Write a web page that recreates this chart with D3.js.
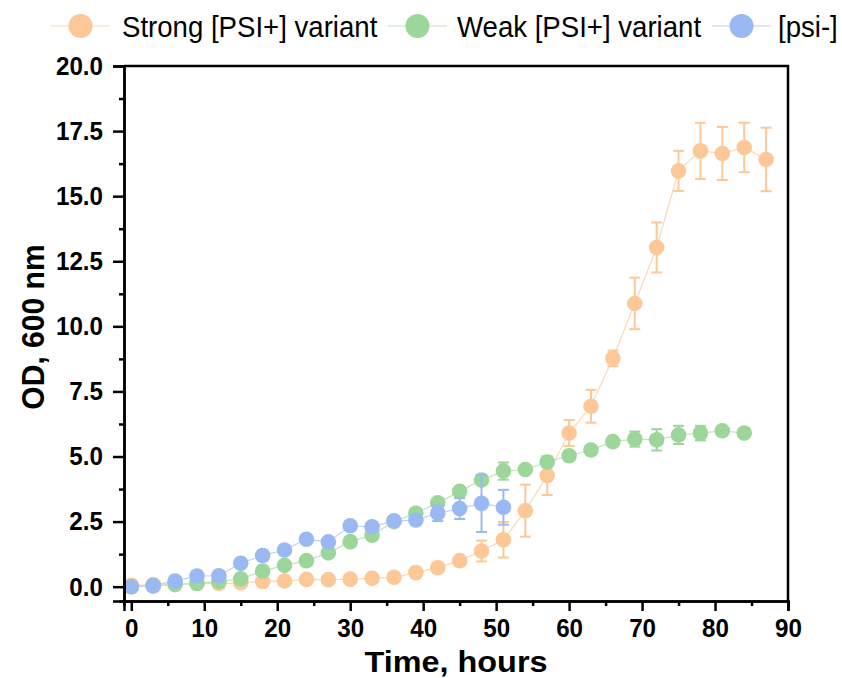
<!DOCTYPE html>
<html>
<head>
<meta charset="utf-8">
<script src="https://cdn.jsdelivr.net/npm/d3@7"></script>
<style>
  body { margin: 0; background: #fff; }
  svg { display: block; font-family: "Liberation Sans", Arial, sans-serif; }
</style>
</head>
<body>
<svg id="chart" width="842" height="678"></svg>
<script>
// time points, hours
const timeStrong = d3.range(0, 88, 3);
const timeWeak = d3.range(0, 85, 3);
const timePsi = d3.range(0, 52, 3);

const odStrong = [0.05, 0.08, 0.1, 0.12, 0.12, 0.15, 0.2, 0.22, 0.28, 0.27, 0.29, 0.32, 0.36, 0.54, 0.73, 1.0, 1.37, 1.8, 2.92, 4.27, 5.9, 6.93, 8.77, 10.88, 13.03, 15.97, 16.74, 16.64, 16.87, 16.41];
const errStrong = [0.05, 0.03, 0.03, 0.03, 0.04, 0.04, 0.05, 0.05, 0.05, 0.05, 0.05, 0.05, 0.06, 0.08, 0.1, 0.12, 0.4, 0.68, 1.0, 0.75, 0.5, 0.63, 0.3, 0.99, 0.96, 0.77, 1.08, 1.02, 0.95, 1.22];

const odWeak = [0.0, 0.03, 0.08, 0.12, 0.2, 0.3, 0.6, 0.82, 1.0, 1.3, 1.73, 1.98, 2.5, 2.82, 3.22, 3.66, 4.1, 4.44, 4.5, 4.79, 5.03, 5.25, 5.57, 5.67, 5.64, 5.83, 5.9, 5.99, 5.9];
const errWeak = [0.02, 0.02, 0.03, 0.03, 0.1, 0.06, 0.08, 0.05, 0.15, 0.15, 0.08, 0.1, 0.1, 0.08, 0.1, 0.1, 0.05, 0.33, 0.1, 0.2, 0.08, 0.08, 0.08, 0.29, 0.41, 0.35, 0.28, 0.12, 0.08];

const odPsi = [0.0, 0.04, 0.22, 0.41, 0.42, 0.9, 1.2, 1.41, 1.82, 1.72, 2.34, 2.3, 2.53, 2.56, 2.82, 3.0, 3.2, 3.05];
const errPsi = [0.02, 0.03, 0.05, 0.05, 0.05, 0.08, 0.2, 0.05, 0.1, 0.1, 0.1, 0.15, 0.12, 0.15, 0.3, 0.4, 1.1, 0.67];

const seriesNames = ["Strong [PSI+] variant", "Weak [PSI+] variant", "[psi-]"];
const seriesColors = ["#fdc897", "#9dd69b", "#9ab9f2"];
const lineColors = ["#fdd7b2", "#bfe5bd", "#bdd0f5"];

const xTicks = d3.range(0, 91, 10);
const xMinor = d3.range(5, 90, 10);
const yTicks = d3.range(0, 20.01, 2.5);
const yMinor = d3.range(1.25, 20, 2.5);

const series = [
  { name: seriesNames[0], t: timeStrong, v: odStrong, e: errStrong },
  { name: seriesNames[1], t: timeWeak, v: odWeak, e: errWeak },
  { name: seriesNames[2], t: timePsi, v: odPsi, e: errPsi }
].map((s, i) => ({
  ...s,
  color: seriesColors[i],
  lineColor: lineColors[i],
  points: s.t.map((t, j) => ({ t, v: s.v[j], e: s.e[j] }))
}));

const svg = d3.select("#chart");
const mLeft = 124, mRight = 788, mTop = 66, mBottom = 601;

const x = d3.scaleLinear().domain([-1, 90]).range([mLeft, mRight]);
const y = d3.scaleLinear().domain([-0.55, 20]).range([mBottom, mTop]);

// the source glyphs are narrow, so squeeze text horizontally
function squeeze(sel, k) {
  sel.each(function () {
    const w = this.getComputedTextLength();
    d3.select(this).attr("textLength", w * k).attr("lengthAdjust", "spacingAndGlyphs");
  });
}

// frame top / right
svg.append("path")
  .attr("d", `M${mLeft},${mTop}H${mRight}V${mBottom}`)
  .attr("fill", "none")
  .attr("stroke", "#000")
  .attr("stroke-width", 2.5);

// series
const line = d3.line().x((d) => x(d.t)).y((d) => y(d.v));

const g = svg.selectAll("g.series").data(series).join("g").attr("class", "series");

g.append("path")
  .attr("d", (d) => line(d.points))
  .attr("fill", "none")
  .attr("stroke", (d) => d.lineColor)
  .attr("stroke-width", 1.2);

g.each(function (s) {
  const eg = d3.select(this).selectAll("g.err").data(s.points).join("g").attr("class", "err")
    .attr("stroke", s.color).attr("stroke-width", 2);
  eg.append("line")
    .attr("x1", (d) => x(d.t)).attr("x2", (d) => x(d.t))
    .attr("y1", (d) => y(d.v - d.e)).attr("y2", (d) => y(d.v + d.e));
  eg.append("line")
    .attr("x1", (d) => x(d.t) - 5.5).attr("x2", (d) => x(d.t) + 5.5)
    .attr("y1", (d) => y(d.v + d.e)).attr("y2", (d) => y(d.v + d.e));
  eg.append("line")
    .attr("x1", (d) => x(d.t) - 5.5).attr("x2", (d) => x(d.t) + 5.5)
    .attr("y1", (d) => y(d.v - d.e)).attr("y2", (d) => y(d.v - d.e));

  d3.select(this).selectAll("circle").data(s.points).join("circle")
    .attr("cx", (d) => x(d.t))
    .attr("cy", (d) => y(d.v))
    .attr("r", 7.8)
    .attr("fill", s.color);
});

// axes
const xAxisG = svg.append("g").attr("transform", `translate(0,${mBottom})`);
xAxisG.call(d3.axisBottom(x).tickValues(xMinor).tickSize(5).tickFormat(""));
xAxisG.call((g) => g.append("g").call(d3.axisBottom(x).tickValues(xTicks).tickSize(10).tickPadding(8).tickFormat(d3.format("d"))));

const yAxisG = svg.append("g").attr("transform", `translate(${mLeft},0)`);
yAxisG.call(d3.axisLeft(y).tickValues(yMinor).tickSize(5).tickFormat(""));
yAxisG.call((g) => g.append("g").call(d3.axisLeft(y).tickValues(yTicks).tickSize(11).tickPadding(10).tickFormat(d3.format(".1f"))));

svg.selectAll(".domain").attr("stroke-width", 2.5);
svg.selectAll(".tick line").attr("stroke-width", 2.5);
svg.selectAll(".tick text")
  .attr("font-family", "'Liberation Sans', Arial, sans-serif")
  .attr("font-size", 26)
  .attr("font-weight", "bold")
  .attr("fill", "#000")
  .call(squeeze, 0.93);
xAxisG.selectAll(".tick text").attr("font-size", 25).call(squeeze, 1.0);

// axis titles
svg.append("text")
  .attr("x", 456)
  .attr("y", 672)
  .attr("text-anchor", "middle")
  .attr("font-size", 30)
  .attr("font-weight", "bold")
  .text("Time, hours")
  .call(squeeze, 1.08);

svg.append("text")
  .attr("transform", `translate(44,327) rotate(-90)`)
  .attr("text-anchor", "middle")
  .attr("font-size", 31)
  .attr("font-weight", "bold")
  .text("OD, 600 nm")
  .call(squeeze, 0.97);

// legend
const legendX = [51, 388, 712];
const lg = svg.selectAll("g.legend").data(series).join("g").attr("class", "legend")
  .attr("transform", (d, i) => `translate(${legendX[i]},26)`);
lg.append("line").attr("x1", 0).attr("x2", 59).attr("stroke", (d) => d.lineColor).attr("stroke-width", 1.2);
lg.append("circle").attr("cx", 29.5).attr("r", 12).attr("fill", (d) => d.color);
lg.append("g")
  .attr("transform", (d, i) => `translate(${[71, 69, 66][i]},11) scale(0.92,1)`)
  .append("text")
  .attr("font-size", 30)
  .text((d) => d.name);
</script>
</body>
</html>
